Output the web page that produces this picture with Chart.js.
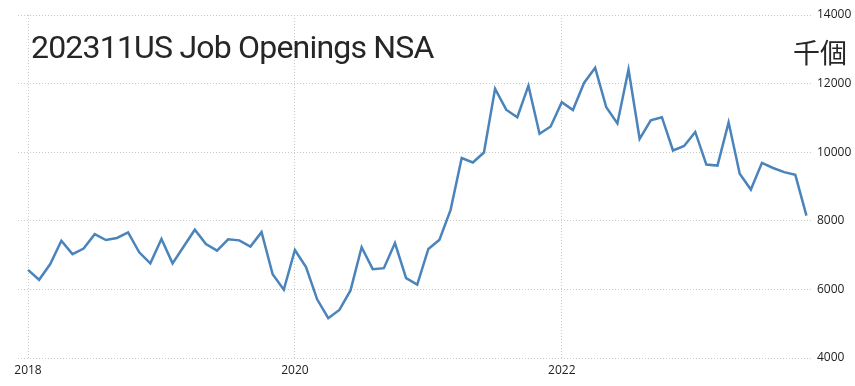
<!DOCTYPE html>
<html><head><meta charset="utf-8">
<script src="https://cdn.jsdelivr.net/npm/chart.js@4.4.0/dist/chart.umd.min.js"></script>
<style>
html,body{margin:0;padding:0;background:#fff;}
#wrap{position:relative;width:855px;height:386px;}
#title{position:absolute;left:31px;top:31px;font-family:Roboto,sans-serif;font-size:32px;letter-spacing:-0.8px;color:#262626;white-space:nowrap;line-height:1;}
#unit{position:absolute;left:793px;top:38px;font-family:"Noto Sans CJK TC",sans-serif;font-size:27px;color:#262626;line-height:1;}
</style></head>
<body><div id="wrap"><canvas id="c" width="855" height="386"></canvas>
<div id="title">202311US Job Openings NSA</div><div id="unit">千個</div></div>
<script>
const startYear = 2018;
const yearTicks = [2018, 2020, 2022];
const yTicks = [4000, 6000, 8000, 10000, 12000, 14000];
const openings = [
 6570, 6280, 6740, 7420, 7030, 7190, 7610, 7440, 7500, 7660, 7080, 6760,
 7470, 6760, 7250, 7740, 7320, 7130, 7460, 7430, 7250, 7670, 6440, 5990,
 7150, 6650, 5710, 5160, 5400, 5970, 7230, 6590, 6620, 7350, 6330, 6140,
 7180, 7450, 8320, 9830, 9700, 9990, 11850, 11240, 11020, 11940, 10540, 10750,
 11460, 11230, 12020, 12460, 11310, 10840, 12410, 10390, 10930, 11020, 10050, 10180,
 10590, 9640, 9610, 10870, 9370, 8910, 9690, 9540, 9420, 9340, 8150
];
const monthIndex = openings.map((_, i) => i);
const points = openings.map((v, i) => ({x: monthIndex[i], y: v}));
new Chart(document.getElementById('c'), {
  type: 'line',
  data: { datasets: [{ data: points, borderColor: '#4a84bb', borderWidth: 2.5, pointRadius: 0, tension: 0, fill: false }] },
  options: {
    responsive: false, animation: false,
    layout: { padding: { left: 18, top: 15, right: 0, bottom: 0 } },
    plugins: { legend: { display: false }, tooltip: { enabled: false } },
    scales: {
      x: {
        type: 'linear', min: -0.9, max: 70.5,
        afterBuildTicks: s => { s.ticks = yearTicks.map(y => ({ value: (y - startYear) * 12 })); },
        afterFit: s => { s.height = 28; },
        ticks: { callback: v => String(startYear + v / 12), font: { family: 'Open Sans', size: 12 }, color: '#222', padding: 5, maxRotation: 0 },
        grid: { color: '#c8c8c8', drawTicks: false, lineWidth: 1 },
        border: { display: false, dash: [1, 2] }
      },
      y: {
        position: 'right', min: 4000, max: 14000,
        afterBuildTicks: s => { s.ticks = yTicks.map(v => ({ value: v })); },
        afterFit: s => { s.width = 43; },
        ticks: { font: { family: 'Open Sans', size: 12 }, color: '#222', padding: 5, callback: v => String(v) },
        grid: { color: '#c8c8c8', drawTicks: false, lineWidth: 1 },
        border: { display: false, dash: [1, 2] }
      }
    }
  }
});
</script></body></html>
